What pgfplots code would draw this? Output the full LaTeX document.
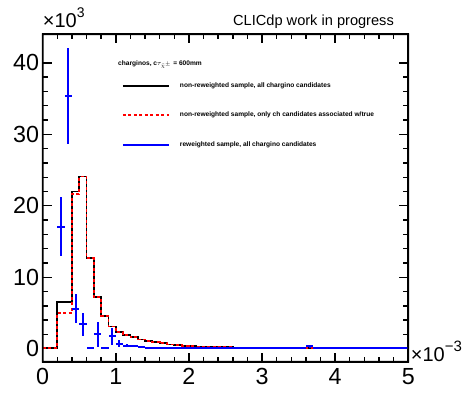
\documentclass[border=0pt]{standalone}
\usepackage{fontspec}
\setmainfont{Liberation Sans}
\usepackage{pgfplots}
\usepackage{pgfplotstable}
\pgfplotsset{compat=1.18}
\definecolor{rootblue}{RGB}{0,0,255}
\definecolor{rootred}{RGB}{255,0,0}

\pgfplotstableread{
x y
0.0 0.15
0.2 6.5
0.4 22.0
0.5 24.1
0.6 12.65
0.7 7.2
0.8 4.6
0.9 3.1
1.0 2.3
1.1 1.9
1.2 1.6
1.3 1.3
1.4 1.08
1.5 0.9
1.6 0.75
1.7 0.6
1.8 0.5
1.9 0.42
2.0 0.35
2.1 0.3
2.2 0.27
2.3 0.24
2.4 0.21
2.5 0.19
2.6 0.17
2.8 0.15
3.0 0.14
3.5 0.12
4.0 0.1
5.0 0.1
}\blackhist

\pgfplotstableread{
x y
0.0 0.15
0.2 5.0
0.4 21.6
0.5 24.1
0.6 12.65
0.7 7.2
0.8 4.6
0.9 3.1
1.0 2.3
1.1 1.9
1.2 1.6
1.3 1.3
1.4 1.08
1.5 0.9
1.6 0.75
1.7 0.6
1.8 0.5
1.9 0.42
2.0 0.35
2.1 0.3
2.2 0.27
2.3 0.24
2.4 0.21
2.5 0.19
2.6 0.17
2.8 0.15
3.0 0.14
3.5 0.12
4.0 0.1
5.0 0.1
}\redhist

\pgfplotstableread{
x y ex ey
0.25 17.1 0.05 4.1
0.35 35.4 0.05 6.7
0.45 5.6 0.05 2.0
0.55 3.4 0.05 1.65
0.65 0.15 0.05 0
0.75 2.0 0.05 1.75
0.85 0.15 0.05 0
0.95 1.75 0.05 1.2
1.05 0.7 0.05 0.45
1.15 0.4 0.05 0.2
1.25 0.35 0.05 0.15
1.35 0.2 0.05 0.1
1.45 0.15 0.05 0
1.55 0.15 0.05 0
1.65 0.15 0.05 0
1.75 0.15 0.05 0
1.85 0.15 0.05 0
1.95 0.15 0.05 0
2.05 0.1 0.05 0
2.15 0.1 0.05 0
2.25 0.1 0.05 0
2.35 0.1 0.05 0
2.45 0.1 0.05 0
2.55 0.1 0.05 0
2.65 0.1 0.05 0
2.75 0.1 0.05 0
2.85 0.1 0.05 0
2.95 0.1 0.05 0
3.05 0.1 0.05 0
3.15 0.1 0.05 0
3.25 0.1 0.05 0
3.35 0.1 0.05 0
3.45 0.1 0.05 0
3.55 0.1 0.05 0
3.65 0.35 0.05 0.2
3.75 0.1 0.05 0
3.85 0.1 0.05 0
3.95 0.1 0.05 0
4.05 0.1 0.05 0
4.15 0.1 0.05 0
4.25 0.1 0.05 0
4.35 0.1 0.05 0
4.45 0.1 0.05 0
4.55 0.1 0.05 0
4.65 0.1 0.05 0
4.75 0.1 0.05 0
4.85 0.1 0.05 0
4.95 0.1 0.05 0
}\bluepts

\begin{document}
\begin{tikzpicture}
\begin{axis}[
  scale only axis, width=365.6pt, height=327.4pt,
  xmin=0, xmax=5, ymin=-1.82, ymax=44.0,
  xtick={0,1,2,3,4,5}, ytick={0,10,20,30,40},
  minor x tick num=4, minor y tick num=4,
  xtick pos=both, ytick pos=both,
  tick align=inside,
  major tick length=9pt, minor tick length=5pt,
  axis line style={draw=black, line width=1.6pt},
  every tick/.append style={draw=black, line width=1.4pt},
  tick label style={font=\fontsize{23.3}{24}\selectfont},
  xticklabel style={yshift=-3pt},
  /pgf/number format/assume math mode=true,
  scaled ticks=false,
  clip=false,
  legend style={at={(0.216,0.854)}, anchor=north west, draw=none, fill=none,
    font=\fontsize{6.6}{7}\selectfont\bfseries, row sep=22pt, column sep=9pt,
    inner sep=0pt, nodes={inner sep=0.5pt, anchor=west}},
  legend cell align=left,
]
\addplot[draw=black, line width=1.8pt, const plot mark left, forget plot] table[x=x,y=y] {\blackhist};
\addplot[draw=rootred, line width=1.8pt, dash pattern=on 3pt off 2.5pt, const plot mark left, forget plot] table[x=x,y=y] {\redhist};
\addplot[draw=none, mark=none, forget plot,
  error bars/.cd, x dir=both, x explicit, y dir=both, y explicit,
  error mark=none, error bar style={draw=rootblue, line width=2pt, solid}]
  table[x=x, y=y, x error=ex, y error=ey] {\bluepts};

\addlegendimage{legend image code/.code={\draw[draw=black, line width=2pt] (0pt,0pt) -- (46.6pt,0pt);}}
\addlegendentry{non-reweighted sample, all chargino candidates}
\addlegendimage{legend image code/.code={\draw[draw=rootred, line width=2pt, dash pattern=on 3pt off 2.5pt] (0pt,0pt) -- (46.6pt,0pt);}}
\addlegendentry{non-reweighted sample, only ch candidates associated w/true}
\addlegendimage{legend image code/.code={\draw[draw=rootblue, line width=2pt] (0pt,0pt) -- (46.6pt,0pt);}}
\addlegendentry{reweighted sample, all chargino candidates}

\fill[black, even odd rule]
  ([shift={(-0.9pt,-0.9pt)}]rel axis cs:0,0) -- ([shift={(0.9pt,-0.9pt)}]rel axis cs:1,0)
  -- ([shift={(0.9pt,0.9pt)}]rel axis cs:1,1) -- ([shift={(-0.9pt,0.9pt)}]rel axis cs:0,1) -- cycle
  ([shift={(0.9pt,0.9pt)}]rel axis cs:0,0) -- ([shift={(-0.9pt,0.9pt)}]rel axis cs:1,0)
  -- ([shift={(-0.9pt,-0.9pt)}]rel axis cs:1,1) -- ([shift={(0.9pt,-0.9pt)}]rel axis cs:0,1) -- cycle;

\node[anchor=base west, inner sep=0pt, font=\fontsize{6.6}{7}\selectfont\bfseries]
  at (rel axis cs:0.206,0.906) {charginos, c$\tau_{\tilde{\chi}^{\pm}}$ = 600mm};
\node[anchor=base west, inner sep=0pt, font=\fontsize{14.6}{16}\selectfont]
  at (rel axis cs:0.5205,1.0284) {CLICdp work in progress};
\node[anchor=base west, inner sep=0pt, font=\fontsize{20}{22}\selectfont]
  at (rel axis cs:0,1.0202) {×10\raisebox{0.5em}{\fontsize{14}{14}\selectfont 3}};
\node[anchor=base west, inner sep=0pt, font=\fontsize{20}{22}\selectfont]
  at (rel axis cs:1.0066,0) {×10\raisebox{0.5em}{\fontsize{15}{15}\selectfont −3}};
\end{axis}
\pgfresetboundingbox
\path[use as bounding box] (-42.7pt,-30.3pt) rectangle (429.3pt,361.7pt);
\end{tikzpicture}
\end{document}
